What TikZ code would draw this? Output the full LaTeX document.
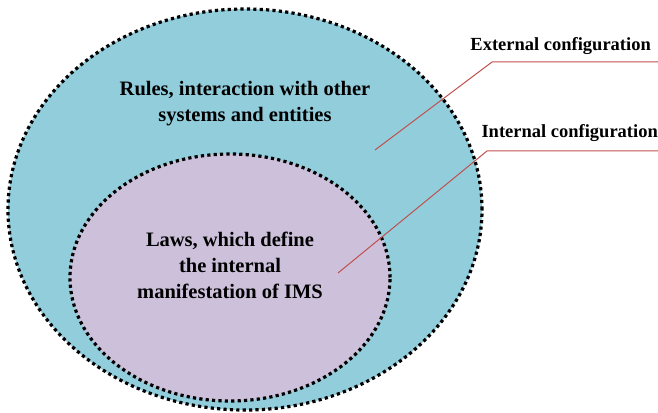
\documentclass[tikz,border=0pt]{standalone}
\usepackage{fontspec}
\setmainfont{Liberation Serif}
\definecolor{outerfill}{HTML}{92CDDC}
\definecolor{innerfill}{HTML}{CCC0DA}
\definecolor{leader}{HTML}{C0504D}
\begin{document}
\begin{tikzpicture}[x=1pt,y=1pt,
  region/.style={line width=3.2pt,dash pattern=on 3.2pt off 3.2pt},
  areatext/.style={font=\bfseries\fontsize{20.5}{26}\selectfont,align=center},
  labeltext/.style={font=\bfseries\fontsize{18.5}{20}\selectfont,inner sep=0pt},
  leaderline/.style={draw=leader,line width=1pt}]
\useasboundingbox (0,0) rectangle (658,412);
% outer and inner regions
\draw[region,fill=outerfill] (245,202.5) ellipse [x radius=237,y radius=200.5];
\draw[region,fill=innerfill] (230,134.5) ellipse [x radius=160,y radius=123.5];
% region texts
\node[areatext] (rules) at (245,308) {Rules, interaction with other\\systems and entities};
\node[areatext] (laws) at (230,147) {Laws, which define\\the internal\\manifestation of IMS};
% callout labels
\node[labeltext,anchor=east] (ext) at (651,366) {External configuration};
\node[labeltext,anchor=east] (int) at (658,279) {Internal configuration};
% leader lines
\coordinate (extA) at (375,262);
\coordinate (extB) at (492,350);
\coordinate (extC) at (658,350);
\coordinate (intA) at (338,139);
\coordinate (intB) at (487,261);
\coordinate (intC) at (658,261);
\draw[leaderline] (extA) -- (extB) -- (extC);
\draw[leaderline] (intA) -- (intB) -- (intC);
\end{tikzpicture}
\end{document}
